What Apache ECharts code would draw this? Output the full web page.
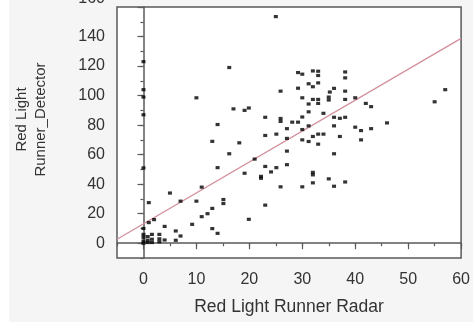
<!DOCTYPE html>
<html>
<head>
<meta charset="utf-8">
<script src="https://cdn.jsdelivr.net/npm/echarts@6/dist/echarts.min.js"></script>
<style>
html,body{margin:0;padding:0;background:#fff;}
#bg{position:absolute;left:9px;top:0;width:464px;height:322px;background:#f5f5f5;}
#c{position:absolute;left:0;top:0;width:473px;height:324px;}
</style>
</head>
<body>
<div id="bg"></div>
<div id="c"></div>
<script>
// Red Light Runner Radar (x) vs Red Light Runner_Detector (y)
const radarX = [
  0,0,0,0,0,0,0,0,0,0,
  0.8,0.8,0.8,
  1,1,
  1.6,1.6,1.6,
  2,
  3,3,3,
  4,4,
  6.1,6.1,
  7,7,
  5,
  9.2,
  10,10,
  11,11,
  12.1,
  13,13,13,
  14,14,14,
  15.1,15.1,
  16.2,16.2,
  17,
  18.1,
  19.1,19.1,
  19.9,19.9,
  21,
  22.2,22.2,
  23,23,23,23,
  24.1,
  25,
  25.1,25.1,
  25.9,25.9,25.9,25.9,
  27.1,27.1,27.1,27.1,
  28.1,
  29.2,29.2,29.2,
  30,30,30,30,30,30,
  31.2,31.2,31.2,31.2,31.2,
  32,32,32,32,32,32,32,
  33,33,33,33,33,33,33,
  34,34,
  35,35,35,
  35.2,
  36,36,36,36,36,
  37.1,37.1,
  38.1,38.1,38.1,38.1,38.1,38.1,
  40,40,
  41.1,41.1,
  42,
  43,43,
  46,
  55,
  57
];
const detectorY = [
  123,104,99,87,51,10,6,4,1.5,0,
  4.5,2,0.5,
  27.5,14,
  6,2.7,0.5,
  16,
  6,3,1,
  11.4,2.2,
  8.3,2,
  28.5,4.9,
  34,
  12.8,
  98.5,28.5,
  38,18,
  20,
  69,23.6,9.9,
  80.4,51.2,6.7,
  29.6,26.9,
  119,60.6,
  91,
  68,
  90,47.4,
  91.6,16.2,
  57,
  45.3,44,
  85.3,73,52,25.8,
  48.3,
  153.5,
  73.9,51.2,
  103,84.5,82.5,38.2,
  77.6,71,62.4,53.2,
  82,
  115.6,105,82,
  114.5,98.5,85.5,77,70,38.2,
  108,94.3,89,79.5,68.9,
  116.7,106,97.4,72.3,48,46.3,40.9,
  116.5,113.6,108.6,97.4,94.7,73.9,67.1,
  88,73.9,
  99,97,43.6,
  102.4,
  104.9,85.3,79.5,60.6,38.6,
  84.6,72.3,
  116,112,103,97.4,85.3,41.5,
  98.5,78.6,
  76.3,70,
  94.7,
  92.5,77.6,
  81.5,
  95.8,
  104
];
// fitted line end points
const fitX = [-5, 60];
const fitY = [2.7, 138.7];
// tick labels
const xTickLabels = [0, 10, 20, 30, 40, 50, 60];
const yTickLabels = [0, 20, 40, 60, 80, 100, 120, 140, 160];
const yTopLabel = '160';

const points = radarX.map((x, i) => [x, detectorY[i]]);
const fitLine = fitX.map((x, i) => [x, fitY[i]]);

const txt = '#333333';
const axisCol = '#5a5a5a';
const font = 'Liberation Sans, Arial, sans-serif';

const chart = echarts.init(document.getElementById('c'), null, {renderer: 'canvas'});
chart.setOption({
  backgroundColor: 'transparent',
  animation: false,
  grid: {
    left: 117, right: 6, top: 7, bottom: 66,
    show: true, backgroundColor: '#ffffff', borderColor: axisCol, borderWidth: 1.5
  },
  xAxis: [
    {
      type: 'value', min: -5, max: 60, interval: 5, position: 'bottom',
      name: 'Red Light Runner Radar', nameLocation: 'middle', nameGap: 40,
      nameTextStyle: {fontSize: 17.5, color: txt, fontFamily: font},
      axisLine: {show: true, lineStyle: {color: axisCol, width: 1.5}},
      axisTick: {show: true, length: 3, lineStyle: {color: axisCol, width: 1.2}},
      axisLabel: {customValues: xTickLabels, fontSize: 16, color: txt, fontFamily: font, margin: 14},
      splitLine: {show: false}
    },
    {
      type: 'value', min: -5, max: 60, position: 'bottom',
      axisLine: {show: false},
      axisTick: {show: true, length: 6, customValues: xTickLabels, lineStyle: {color: axisCol, width: 1.2}},
      axisLabel: {show: false},
      splitLine: {show: false}
    }
  ],
  yAxis: [
    {
      type: 'value', min: -10, max: 160, interval: 10, position: 'left',
      name: 'Red Light\nRunner_Detector', nameLocation: 'middle', nameGap: 67,
      nameTextStyle: {fontSize: 15, color: txt, fontFamily: font, lineHeight: 19, padding: [0, 0, 0, 26]},
      axisLine: {show: true, lineStyle: {color: axisCol, width: 1.5}},
      axisTick: {show: true, length: 3, lineStyle: {color: axisCol, width: 1.2}},
      axisLabel: {
        customValues: yTickLabels.filter(v => v !== 160), fontSize: 16, color: txt, fontFamily: font, margin: 12
      },
      splitLine: {show: false}
    },
    {
      type: 'value', min: -10, max: 160, position: 'left',
      axisLine: {show: false},
      axisTick: {show: true, length: 6, customValues: yTickLabels, lineStyle: {color: axisCol, width: 1.2}},
      axisLabel: {show: false},
      splitLine: {show: false}
    }
  ],
  graphic: [
    {
      type: 'text', right: 473 - 105, top: -9,
      style: {text: yTopLabel, fontSize: 16, fill: txt, fontFamily: font}
    }
  ],
  series: [
    {
      type: 'line', data: fitLine, xAxisIndex: 0, yAxisIndex: 0,
      symbol: 'none', lineStyle: {color: '#d4919d', width: 1.4}, z: 2, silent: true
    },
    {
      type: 'scatter', data: points, xAxisIndex: 0, yAxisIndex: 0,
      symbol: 'rect', symbolSize: [4, 3.2],
      itemStyle: {color: '#000000'}, z: 3, silent: true
    }
  ]
});
</script>
</body>
</html>
